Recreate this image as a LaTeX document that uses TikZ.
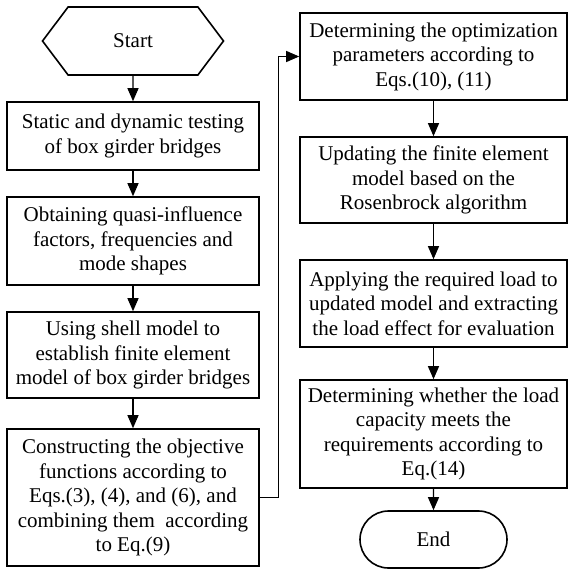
\documentclass[tikz,border=0pt]{standalone}
\usepackage{fontspec}
\setmainfont{Liberation Serif}
\usetikzlibrary{shapes.misc,shapes.symbols,arrows.meta}

\begin{document}
\begin{tikzpicture}[x=1pt, y=1pt,
    box/.style={
        rectangle, draw, line width=1.6pt,
        minimum width=252pt, inner sep=0pt,
        align=center, font=\fontsize{21}{24.5}\selectfont
    },
    rbox/.style={box, minimum width=267pt},
    arrow/.style={-{Triangle[length=13pt,width=11pt]}, line width=1.1pt}
]
\useasboundingbox (0,0) rectangle (569,-570);

% Left column
\node[box, signal, signal to=west and east, signal pointer angle=106,
      minimum width=181pt, minimum height=68pt] (start) at (133,-41) {Start};
\node[box, minimum height=68pt] (testing) at (133,-136) {Static and dynamic testing\\of box girder bridges};
\node[box, minimum height=88pt] (factors) at (133,-241) {Obtaining quasi-influence\\factors, frequencies and\\mode shapes};
\node[box, minimum height=86pt] (shell) at (133,-355) {Using shell model to\\establish finite element\\model of box girder bridges};
\node[box, minimum height=137pt] (objective) at (133,-497.5) {Constructing the objective\\functions according to\\Eqs.(3), (4), and (6), and\\combining them \ according\\to Eq.(9)};

\draw[arrow] (start) -- (testing);
\draw[arrow] (testing) -- (factors);
\draw[arrow] (factors) -- (shell);
\draw[arrow] (shell) -- (objective);

% Right column
\node[rbox, minimum height=87pt] (params) at (433.5,-56.5) {Determining the optimization\\parameters according to\\Eqs.(10), (11)};
\node[rbox, minimum height=86pt] (updating) at (433.5,-180) {Updating the finite element\\model based on the\\Rosenbrock algorithm};
\node[rbox, minimum height=87pt] (applying) at (433.5,-303.5) {Applying the required load to\\updated model and extracting\\the load effect for evaluation};
\node[rbox, minimum height=108pt] (capacity) at (433.5,-434) {Determining whether the load\\capacity meets the\\requirements according to\\Eq.(14)};
\node[box, rounded rectangle, minimum width=147pt, minimum height=57pt] (end) at (433.5,-539.5) {End};

\draw[arrow] (objective.east) -- ++(19,0) |- (params.west);
\draw[arrow] (params) -- (updating);
\draw[arrow] (updating) -- (applying);
\draw[arrow] (applying) -- (capacity);
\draw[arrow] (capacity) -- (end);

\end{tikzpicture}
\end{document}
